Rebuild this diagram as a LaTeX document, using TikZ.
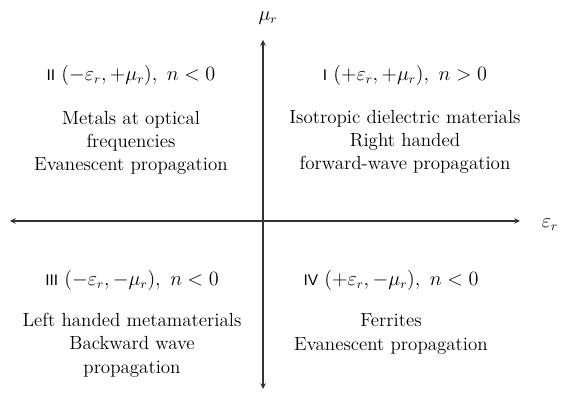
\documentclass[tikz,border=0pt]{standalone}
\usepackage{fontspec}
\newfontfamily\numfont{Liberation Sans}
\begin{document}
\begin{tikzpicture}[x=0.025cm,y=0.025cm,>=stealth,
    font=\fontsize{13.5}{16.6}\selectfont,
    axis/.style={black!80,thick},
    quad/.style={align=center}]
    \useasboundingbox (0,0) rectangle (561,395);
    % Ejes.
    \coordinate (eps-) at (10,174);
    \coordinate (eps+) at (520,174);
    \coordinate (mu-) at (263,6);
    \coordinate (mu+) at (263,355);
    \draw[axis,<->] (eps-) -- (eps+);
    \draw[axis,<->] (mu-) -- (mu+);
    \node (epslab) at (550,170) {$\varepsilon_r$};
    \node (mulab) at (268,377) {$\mu_r$};

    % Cuadrante I.
    \node (titleI) at (405,320)
        {{\numfont\fontsize{11}{14}\selectfont I} $(+\varepsilon_r,+\mathrm{\mu}_r),\ n>0$};
    \node[quad] (bodyI) at (405,253)
        {Isotropic dielectric materials\\Right handed\\forward-wave propagation};

    % Cuadrante II.
    \node (titleII) at (131,320)
        {{\numfont\fontsize{11}{14}\selectfont II} $(-\varepsilon_r,+\mu_r),\ n<0$};
    \node[quad] (bodyII) at (131,252)
        {Metals at optical\\frequencies\\Evanescent propagation};

    % Cuadrante III.
    \node (titleIII) at (132,115)
        {{\numfont\fontsize{11}{14}\selectfont III} $(-\varepsilon_r,-\mu_r),\ n<0$};
    \node[quad] (bodyIII) at (132,50)
        {Left handed metamaterials\\Backward wave\\propagation};

    % Cuadrante IV.
    \node (titleIV) at (391,115)
        {{\numfont\fontsize{11}{14}\selectfont IV} $(+\varepsilon_r,-\mu_r),\ n<0$};
    \node[quad] (bodyIV) at (391,61)
        {Ferrites\\Evanescent propagation};
\end{tikzpicture}
\end{document}
